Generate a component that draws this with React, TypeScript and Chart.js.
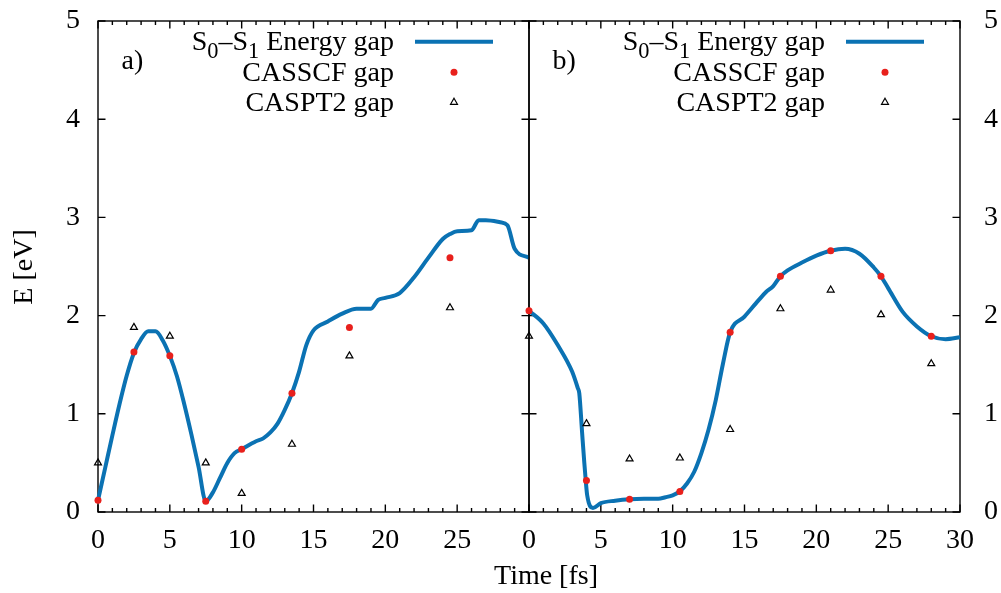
import React, { useEffect, useRef } from 'react';
import { Chart, registerables } from 'chart.js';

Chart.register(...registerables);

const FONT = "'Liberation Serif', 'Times New Roman', serif";
const BLUE = '#0b72b3';
const RED = '#e8201c';

// ---------- Panel a) ----------
const gapTimeA = [0, 0.5, 1, 1.5, 2, 2.5, 3, 3.5, 4, 4.5, 5, 5.5, 6, 6.5, 7, 7.5, 8, 8.5, 9, 9.5, 10, 11, 11.5, 12, 12.5, 13, 13.5, 14, 14.5, 15, 16, 17, 18, 19, 19.5, 20, 21, 22, 23, 24, 24.5, 25, 26, 26.5, 27, 28, 28.5, 29, 30];
const gapA = [0.12, 0.45, 0.78, 1.1, 1.39, 1.62, 1.76, 1.84, 1.84, 1.75, 1.59, 1.38, 1.1, 0.79, 0.46, 0.11, 0.2, 0.35, 0.5, 0.6, 0.64, 0.72, 0.75, 0.81, 0.9, 1.04, 1.21, 1.43, 1.7, 1.85, 1.94, 2.02, 2.07, 2.07, 2.16, 2.18, 2.23, 2.39, 2.59, 2.78, 2.83, 2.86, 2.87, 2.97, 2.97, 2.95, 2.92, 2.68, 2.59];
const pointTimeA = [0, 2.5, 5, 7.5, 10, 13.5, 17.5, 24.5];
const casscfA = [0.12, 1.63, 1.59, 0.11, 0.64, 1.21, 1.88, 2.59];
const caspt2A = [0.5, 1.88, 1.79, 0.5, 0.19, 0.69, 1.59, 2.08];

// ---------- Panel b) ----------
const gapTimeB = [0, 1, 2, 3, 3.4, 3.5, 3.7, 3.85, 3.95, 4.05, 4.45, 5, 6, 7, 8, 9, 9.5, 10, 10.5, 11, 11.5, 12, 12.5, 13, 13.5, 14, 15, 16, 16.5, 17, 17.5, 18, 19, 20, 21, 22, 23, 24, 24.5, 25, 26, 27, 28, 29, 30];
const gapB = [2.05, 1.92, 1.7, 1.43, 1.26, 1.21, 0.8, 0.5, 0.32, 0.17, 0.04, 0.09, 0.115, 0.13, 0.135, 0.135, 0.15, 0.17, 0.21, 0.29, 0.41, 0.6, 0.84, 1.14, 1.51, 1.83, 1.99, 2.16, 2.24, 2.3, 2.4, 2.46, 2.54, 2.61, 2.66, 2.68, 2.63, 2.49, 2.4, 2.28, 2.04, 1.89, 1.79, 1.76, 1.78];
const pointTimeB = [0, 4, 7, 10.5, 14, 17.5, 21, 24.5, 28];
const casscfB = [2.05, 0.32, 0.13, 0.21, 1.83, 2.4, 2.66, 2.4, 1.79];
const caspt2B = [1.79, 0.9, 0.54, 0.55, 0.84, 2.07, 2.26, 2.01, 1.51];

// ---------- Axes / labels ----------
const xMin = 0;
const xMax = 30;
const xStep = 5;
const yMin = 0;
const yMax = 5;
const yStep = 1;
const xTitle = 'Time [fs]';
const yTitle = 'E [eV]';
const legendLabels = ['S_0–S_1 Energy gap', 'CASSCF gap', 'CASPT2 gap'];
const panelLabels = ['a)', 'b)'];

const W = 1001;
const H = 593;
const AREA_A = { left: 98, right: 529, top: 21, bottom: 512 };
const AREA_B = { left: 529, right: 960, top: 21, bottom: 512 };

function parseRich(s: string) {
  const parts: { t: string; sub: boolean }[] = [];
  let buf = '';
  for (let i = 0; i < s.length; i++) {
    if (s[i] === '_' && i + 1 < s.length) {
      if (buf) parts.push({ t: buf, sub: false });
      buf = '';
      parts.push({ t: s[i + 1], sub: true });
      i++;
    } else buf += s[i];
  }
  if (buf) parts.push({ t: buf, sub: false });
  return parts;
}

function drawRichRight(ctx: CanvasRenderingContext2D, s: string, right: number, base: number, size: number) {
  const parts = parseRich(s);
  const fontFor = (sub: boolean) => `${sub ? size * 0.8 : size}px ${FONT}`;
  let total = 0;
  const widths = parts.map((p) => {
    ctx.font = fontFor(p.sub);
    const w = ctx.measureText(p.t).width;
    total += w;
    return w;
  });
  let x = right - total;
  ctx.textAlign = 'left';
  ctx.textBaseline = 'alphabetic';
  parts.forEach((p, i) => {
    ctx.font = fontFor(p.sub);
    ctx.fillText(p.t, x, p.sub ? base + 8 : base);
    x += widths[i];
  });
}

const gnuPlugin = {
  id: 'gnu',
  beforeDatasetsDraw(chart: any) {
    const { ctx, chartArea: a, scales } = chart;
    const xs = scales.x;
    const ys = scales.y;
    ctx.save();
    ctx.strokeStyle = '#000';
    ctx.lineWidth = 1.4;
    ctx.beginPath();
    for (let v = xMin; v <= xMax; v += 1) {
      const px = xs.getPixelForValue(v);
      const len = v % xStep === 0 ? 7.5 : 4;
      ctx.moveTo(px, a.bottom);
      ctx.lineTo(px, a.bottom - len);
      ctx.moveTo(px, a.top);
      ctx.lineTo(px, a.top + len);
    }
    for (let v = yMin; v <= yMax; v += yStep) {
      const py = ys.getPixelForValue(v);
      ctx.moveTo(a.left, py);
      ctx.lineTo(a.left + 7.5, py);
      ctx.moveTo(a.right, py);
      ctx.lineTo(a.right - 7.5, py);
    }
    ctx.stroke();
    ctx.strokeRect(a.left, a.top, a.right - a.left, a.bottom - a.top);
    ctx.restore();
  },
  afterDraw(chart: any, _args: any, opts: any) {
    const { ctx, chartArea: a } = chart;
    ctx.save();
    ctx.fillStyle = '#000';
    // panel label
    ctx.font = `28px ${FONT}`;
    ctx.textAlign = 'left';
    ctx.textBaseline = 'alphabetic';
    ctx.fillText(opts.panelLabel, a.left + 23.5, a.top + 47.5);
    // legend
    const rowY = [a.top + 20.8, a.top + 51.3, a.top + 81.3];
    legendLabels.forEach((lab, i) => {
      drawRichRight(ctx, lab, a.right - 135, rowY[i] + 8.5, 28);
    });
    const cx = a.right - 75;
    ctx.strokeStyle = BLUE;
    ctx.lineWidth = 4;
    ctx.beginPath();
    ctx.moveTo(a.right - 114, rowY[0]);
    ctx.lineTo(a.right - 36, rowY[0]);
    ctx.stroke();
    ctx.fillStyle = RED;
    ctx.beginPath();
    ctx.arc(cx, rowY[1], 3.5, 0, Math.PI * 2);
    ctx.fill();
    ctx.strokeStyle = '#000';
    ctx.lineWidth = 1.2;
    const r = 4;
    ctx.beginPath();
    ctx.moveTo(cx, rowY[2] - r);
    ctx.lineTo(cx + r * Math.sin((2 * Math.PI) / 3), rowY[2] - r * Math.cos((2 * Math.PI) / 3));
    ctx.lineTo(cx + r * Math.sin((4 * Math.PI) / 3), rowY[2] - r * Math.cos((4 * Math.PI) / 3));
    ctx.closePath();
    ctx.stroke();
    // axis titles
    if (opts.axisTitles) {
      ctx.fillStyle = '#000';
      ctx.font = `28px ${FONT}`;
      ctx.textAlign = 'center';
      ctx.textBaseline = 'alphabetic';
      ctx.fillText(xTitle, 546, 584);
      ctx.save();
      ctx.translate(32, 267);
      ctx.rotate(-Math.PI / 2);
      ctx.fillText(yTitle, 0, 0);
      ctx.restore();
    }
    ctx.restore();
  },
};

function makeConfig(isA: boolean): any {
  const gapT = isA ? gapTimeA : gapTimeB;
  const gapV = isA ? gapA : gapB;
  const ptT = isA ? pointTimeA : pointTimeB;
  const scf = isA ? casscfA : casscfB;
  const pt2 = isA ? caspt2A : caspt2B;
  const area = isA ? AREA_A : AREA_B;
  const tickFont = { family: FONT, size: 28 };
  return {
    type: 'line',
    data: {
      datasets: [
        {
          label: legendLabels[1],
          data: ptT.map((t, i) => ({ x: t, y: scf[i] })),
          showLine: false,
          pointRadius: 3.5,
          pointBackgroundColor: RED,
          pointBorderWidth: 0,
          order: 1,
          clip: false,
        },
        {
          label: legendLabels[2],
          data: ptT.map((t, i) => ({ x: t, y: pt2[i] })),
          showLine: false,
          pointStyle: 'triangle',
          pointRadius: 4,
          pointBackgroundColor: 'rgba(0,0,0,0)',
          pointBorderColor: '#000',
          pointBorderWidth: 1.2,
          order: 2,
          clip: false,
        },
        {
          label: legendLabels[0],
          data: gapT.map((t, i) => ({ x: t, y: gapV[i] })),
          borderColor: BLUE,
          borderWidth: 4,
          pointRadius: 0,
          cubicInterpolationMode: 'monotone',
          borderJoinStyle: 'round',
          fill: false,
          order: 3,
          clip: false,
        },
      ],
    },
    options: {
      responsive: false,
      animation: false,
      events: [],
      layout: {
        padding: isA
          ? { left: 0, right: W - area.right, top: area.top, bottom: 0 }
          : { left: area.left, right: 0, top: area.top, bottom: 0 },
      },
      plugins: {
        legend: { display: false },
        tooltip: { enabled: false },
        gnu: { panelLabel: isA ? panelLabels[0] : panelLabels[1], axisTitles: isA },
      },
      scales: {
        x: {
          type: 'linear',
          min: xMin,
          max: xMax,
          afterFit: (s: any) => {
            s.height = H - area.bottom;
            s.paddingLeft = 0;
            s.paddingRight = 0;
          },
          grid: { display: false, drawTicks: false },
          border: { display: false },
          ticks: {
            stepSize: xStep,
            autoSkip: false,
            maxRotation: 0,
            padding: 12,
            color: '#000',
            font: tickFont,
            callback: (v: number) => (isA && v === xMax ? '' : String(v)),
          },
        },
        y: {
          type: 'linear',
          position: isA ? 'left' : 'right',
          min: yMin,
          max: yMax,
          afterFit: (s: any) => {
            s.width = isA ? area.left : W - area.right;
            s.paddingTop = 0;
            s.paddingBottom = 0;
          },
          grid: { display: false, drawTicks: false },
          border: { display: false },
          ticks: {
            stepSize: yStep,
            padding: isA ? 18 : 24,
            color: '#000',
            font: tickFont,
          },
        },
      },
    },
    plugins: [gnuPlugin],
  };
}

// nudge the layout padding so the plot frame lands where it should
function pinArea(chart: any, target: { left: number; right: number; top: number; bottom: number }) {
  for (let k = 0; k < 4; k++) {
    const a = chart.chartArea;
    const dl = target.left - a.left;
    const dr = target.right - a.right;
    const dt = target.top - a.top;
    const db = target.bottom - a.bottom;
    if (Math.abs(dl) + Math.abs(dr) + Math.abs(dt) + Math.abs(db) < 0.5) break;
    const p = chart.config.options.layout.padding;
    chart.config.options.layout.padding = {
      left: p.left + dl,
      right: p.right - dr,
      top: p.top + dt,
      bottom: p.bottom - db,
    };
    chart.update('none');
  }
}

export default function App() {
  const leftRef = useRef<HTMLCanvasElement>(null);
  const rightRef = useRef<HTMLCanvasElement>(null);
  useEffect(() => {
    const c1 = new Chart(leftRef.current as HTMLCanvasElement, makeConfig(true));
    const c2 = new Chart(rightRef.current as HTMLCanvasElement, makeConfig(false));
    pinArea(c1, AREA_A);
    pinArea(c2, AREA_B);
    return () => {
      c1.destroy();
      c2.destroy();
    };
  }, []);
  return (
    <div style={{ position: 'fixed', left: 0, top: 0, width: W, height: H, background: '#fff' }}>
      <canvas ref={leftRef} width={W} height={H} style={{ position: 'absolute', left: 0, top: 0 }} />
      <canvas ref={rightRef} width={W} height={H} style={{ position: 'absolute', left: 0, top: 0 }} />
    </div>
  );
}
